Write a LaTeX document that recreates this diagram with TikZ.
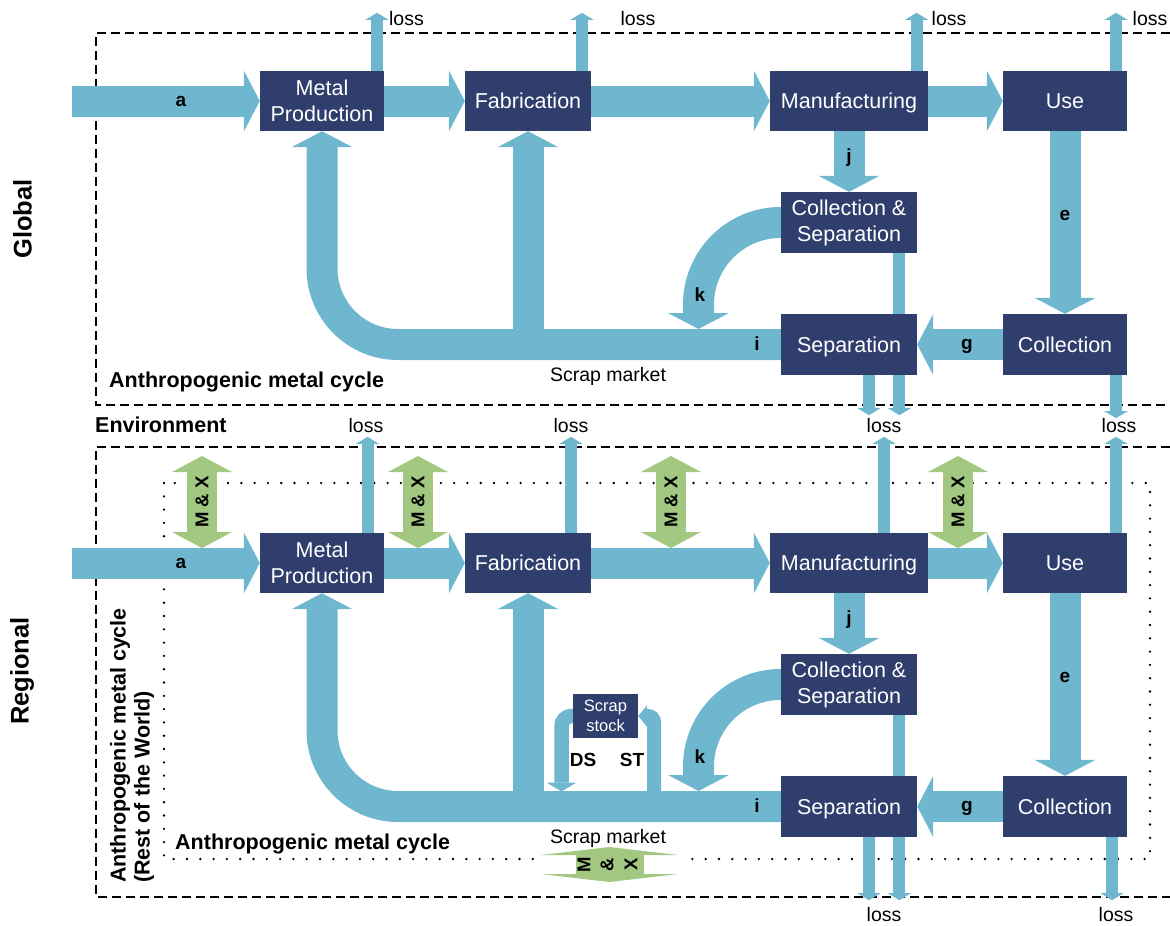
\documentclass[tikz,border=0pt]{standalone}
\usepackage{fontspec}
\setmainfont{Liberation Sans}
\usepackage{xcolor}
\usetikzlibrary{arrows.meta}
\definecolor{boxblue}{RGB}{47,62,108}
\definecolor{flowblue}{RGB}{111,183,206}
\definecolor{mxgreen}{RGB}{162,199,128}

\begin{document}
\begin{tikzpicture}[x=1pt,y=-1pt,
  box/.style={fill=boxblue,text=white,align=center,inner sep=0pt,minimum height=60pt,font=\fontsize{21.5}{26}\selectfont},
  flow/.style={draw=flowblue,line width=31pt,-{Triangle[width=61pt,length=16pt,line width=0pt]}},
  lossarrow/.style={draw=flowblue,line width=12pt,-{Triangle[width=23pt,length=7pt,line width=0pt]}},
  link/.style={draw=flowblue,line width=12pt},
  dsflow/.style={draw=flowblue,line width=14.5pt,-{Triangle[width=30pt,length=9pt,line width=0pt]}},
  stflow/.style={draw=flowblue,line width=14pt,-{Triangle[width=22pt,length=9pt,line width=0pt]}},
  mx/.style={draw=mxgreen,line width=30pt,{Triangle[width=60pt,length=16pt,line width=0pt]}-{Triangle[width=60pt,length=16pt,line width=0pt]}},
  mxt/.style={font=\fontsize{18.5}{20}\selectfont\bfseries,inner sep=0pt},
  lbl/.style={font=\fontsize{19}{22}\selectfont\bfseries},
  txt/.style={font=\fontsize{19.5}{22}\selectfont},
  head/.style={font=\fontsize{21.5}{24}\selectfont\bfseries,inner sep=0pt},
  side/.style={font=\fontsize{25.5}{30}\selectfont\bfseries},
  frame/.style={line width=1.3pt,dash pattern=on 9pt off 5pt},
  dotframe/.style={line width=2.6pt,line cap=round,dash pattern=on 0pt off 13.3pt}]
  \useasboundingbox (0,0) rectangle (1170,926);

  \draw[frame] (1170,33) -| (96,405) -- (1170,405);
  \draw[frame] (1170,447) -| (96,897) -- (1170,897);
  \draw[dotframe] (164,483) rectangle (1150,859);

  \node[side,rotate=90] (glob) at (22.5,219) {Global};
  \node[side,rotate=90] (regi) at (22,671) {Regional};
  \node[head,anchor=west] (amc1) at (109,382) {Anthropogenic metal cycle};
  \node[head,anchor=west] (env) at (95,425) {Environment};
  \node[head,anchor=west] (amc2) at (175,844) {Anthropogenic metal cycle};
  \node[head,rotate=90,align=left] (rotw) at (132,745.5) {Anthropogenic metal cycle\\(Rest of the World)};

  \node[box,minimum width=124pt] (mp1) at (322,101) {Metal\\Production};
  \node[box,minimum width=126pt] (fab1) at (528,101) {Fabrication};
  \node[box,minimum width=158pt,text depth=0pt] (man1) at (849,101) {Manufacturing};
  \node[box,minimum width=124pt] (use1) at (1065,101) {Use};
  \node[box,minimum width=136pt,minimum height=61pt] (cs1) at (849,222.5) {Collection \&\\Separation};
  \node[box,minimum width=136pt,minimum height=61pt,text depth=0pt] (sep1) at (849,344.5) {Separation};
  \node[box,minimum width=124pt,minimum height=61pt] (col1) at (1065,344.5) {Collection};
  \coordinate (in1) at (72,101);
  \coordinate (k1) at (698.5,329);

  \draw[flow,rounded corners=76pt] (sep1.west) -| (mp1.south);
  \draw[flow] (fab1.south |- sep1.west) -- (fab1.south);
  \draw[flow,rounded corners=82pt] (cs1.west) -| (k1);
  \draw[flow] (in1) -- (mp1.west);
  \draw[flow] (mp1.east) -- (fab1.west);
  \draw[flow] (fab1.east) -- (man1.west);
  \draw[flow] (man1.east) -- (use1.west);
  \draw[flow] (man1.south) -- (cs1.north);
  \draw[flow] (use1.south) -- (col1.north);
  \draw[flow] (col1.west) -- (sep1.east);
  \draw[link] ([xshift=50.4pt]cs1.south) -- ([xshift=50.4pt]sep1.north);

  \draw[lossarrow] ([xshift=55pt]mp1.north) -- ++(0,-58);
  \draw[lossarrow] ([xshift=54pt]fab1.north) -- ++(0,-58);
  \draw[lossarrow] ([xshift=67.5pt]man1.north) -- ++(0,-58);
  \draw[lossarrow] ([xshift=51pt]use1.north) -- ++(0,-58);
  \draw[lossarrow] ([xshift=20pt]sep1.south) -- ++(0,40);
  \draw[lossarrow] ([xshift=50.4pt]sep1.south) -- ++(0,40);
  \draw[lossarrow] ([xshift=51pt]col1.south) -- ++(0,43);
  \node[txt] at (406.5,19) {loss};
  \node[txt] at (638,19) {loss};
  \node[txt] at (949,19) {loss};
  \node[txt] at (1150,19) {loss};
  \node[txt] at (366,426) {loss};
  \node[txt] at (571,426) {loss};
  \node[txt] at (884,426) {loss};
  \node[txt] at (1119,426) {loss};

  \node[lbl] at (181,101) {a};
  \node[lbl] at (849,158) {j};
  \node[lbl] at (1065,215) {e};
  \node[lbl] at (967,346) {g};
  \node[lbl] at (757,344) {i};
  \node[lbl] at (700,295) {k};
  \node[txt] at (608,376) {Scrap market};

  \node[box,minimum width=124pt] (mp2) at (322,563) {Metal\\Production};
  \node[box,minimum width=126pt] (fab2) at (528,563) {Fabrication};
  \node[box,minimum width=158pt,text depth=0pt] (man2) at (849,563) {Manufacturing};
  \node[box,minimum width=124pt] (use2) at (1065,563) {Use};
  \node[box,minimum width=136pt,minimum height=61pt] (cs2) at (849,684.5) {Collection \&\\Separation};
  \node[box,minimum width=136pt,minimum height=61pt,text depth=0pt] (sep2) at (849,806.5) {Separation};
  \node[box,minimum width=124pt,minimum height=61pt] (col2) at (1065,806.5) {Collection};
  \node[box,font=\fontsize{16.5}{20}\selectfont,minimum width=65pt,minimum height=44pt] (stock) at (605.5,716) {Scrap\\stock};
  \coordinate (in2) at (72,563);
  \coordinate (k2) at (698.5,791);
  \coordinate (ds) at (561.5,791.5);
  \coordinate (st) at (654,792);

  \draw[flow,rounded corners=76pt] (sep2.west) -| (mp2.south);
  \draw[flow] (fab2.south |- sep2.west) -- (fab2.south);
  \draw[flow,rounded corners=82pt] (cs2.west) -| (k2);
  \draw[flow] (in2) -- (mp2.west);
  \draw[flow] (mp2.east) -- (fab2.west);
  \draw[flow] (fab2.east) -- (man2.west);
  \draw[flow] (man2.east) -- (use2.west);
  \draw[flow] (man2.south) -- (cs2.north);
  \draw[flow] (use2.south) -- (col2.north);
  \draw[flow] (col2.west) -- (sep2.east);
  \draw[link] ([xshift=50.4pt]cs2.south) -- ([xshift=50.4pt]sep2.north);
  \draw[dsflow,rounded corners=10pt] (stock.west) -| (ds);
  \draw[stflow,rounded corners=6pt] (st) |- (stock.east);

  \draw[lossarrow] ([xshift=45.5pt]mp2.north) -- ++(0,-96);
  \draw[lossarrow] ([xshift=43pt]fab2.north) -- ++(0,-96);
  \draw[lossarrow] ([xshift=35pt]man2.north) -- ++(0,-96);
  \draw[lossarrow] ([xshift=51pt]use2.north) -- ++(0,-96);
  \draw[lossarrow] ([xshift=20pt]sep2.south) -- ++(0,63);
  \draw[lossarrow] ([xshift=50.4pt]sep2.south) -- ++(0,63);
  \draw[lossarrow] ([xshift=47pt]col2.south) -- ++(0,63);
  \node[txt] at (884,915) {loss};
  \node[txt] at (1116,915) {loss};

  \draw[mx] (202,456) -- (202,548);
  \draw[mx] (418,456) -- (418,548);
  \draw[mx] (671,456) -- (671,548);
  \draw[mx] (958,456) -- (958,548);
  \node[mxt,rotate=90] at (202,502) {M \& X};
  \node[mxt,rotate=90] at (418,502) {M \& X};
  \node[mxt,rotate=90] at (671,502) {M \& X};
  \node[mxt,rotate=90] at (958,502) {M \& X};
  \fill[white] (537,851) rectangle (682,878);
  \draw[draw=mxgreen,line width=68pt,{Triangle[width=137pt,length=8pt,line width=0pt]}-{Triangle[width=137pt,length=8pt,line width=0pt]}] (609.5,847) -- (609.5,882);
  \node[mxt,rotate=90] at (584,864.5) {M};
  \node[mxt,rotate=90] at (607,864.5) {\&};
  \node[mxt,rotate=90] at (631,864.5) {X};

  \node[lbl] at (181,563) {a};
  \node[lbl] at (849,620) {j};
  \node[lbl] at (1065,677) {e};
  \node[lbl] at (967,808) {g};
  \node[lbl] at (757,806) {i};
  \node[lbl] at (700,757) {k};
  \node[lbl] at (583,760) {DS};
  \node[lbl] at (632,760) {ST};
  \node[txt] at (608,838) {Scrap market};
\end{tikzpicture}
\end{document}
